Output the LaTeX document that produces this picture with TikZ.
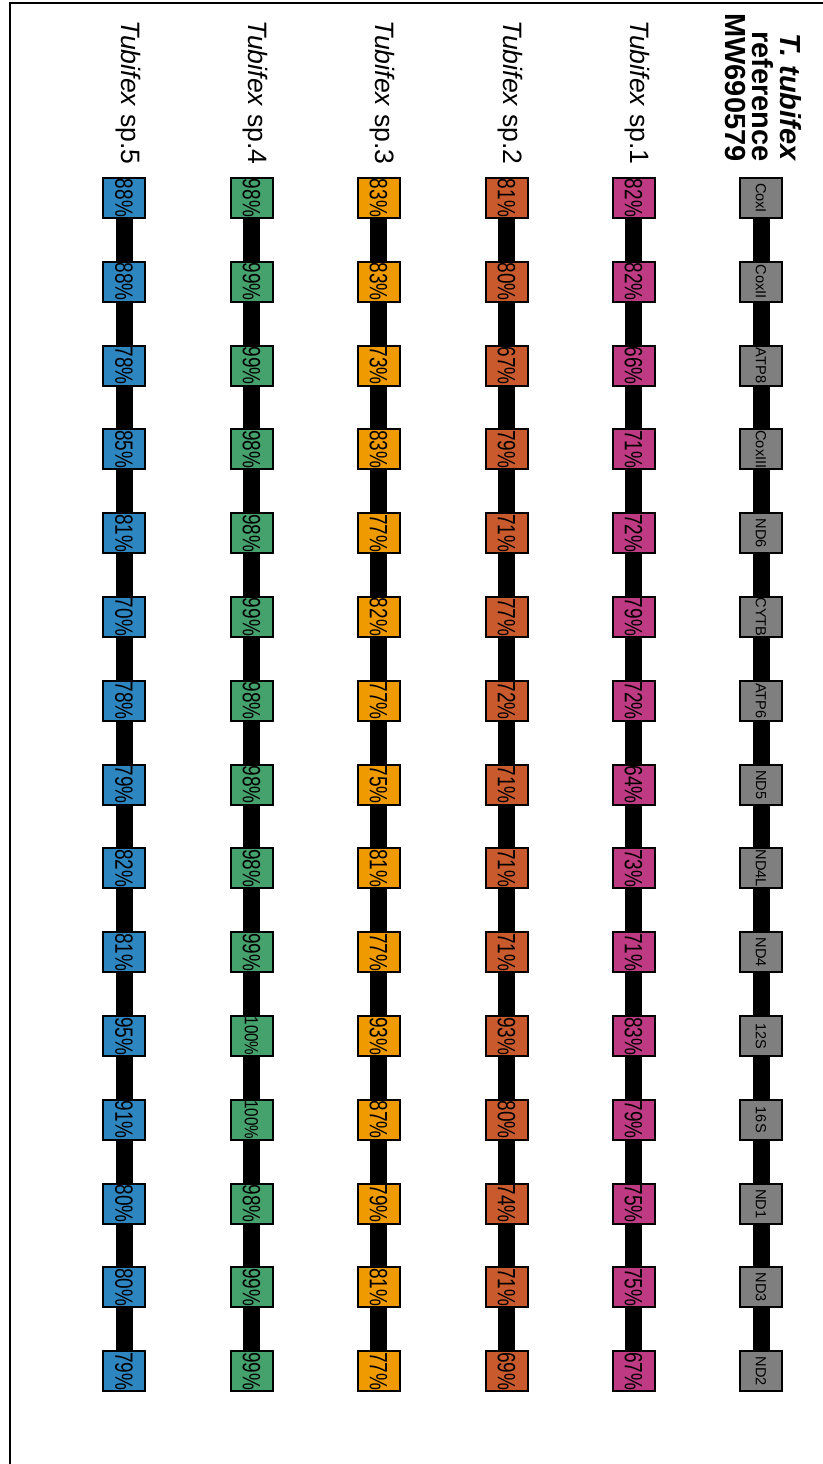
\documentclass[tikz,border=0pt]{standalone}
\usepackage{fontspec}
\setmainfont{Liberation Sans}
\usetikzlibrary{positioning}
\definecolor{refgray}{HTML}{7F7F7F}
\definecolor{spone}{HTML}{BE3A82}
\definecolor{sptwo}{HTML}{C85A2E}
\definecolor{spthree}{HTML}{EE9A00}
\definecolor{spfour}{HTML}{46A26D}
\definecolor{spfive}{HTML}{2E86C1}
% identity value, turned to read downwards
\newcommand{\pct}[1]{\rotatebox{-90}{\ifnum#1=100 \fontsize{9.5}{10}\selectfont\scalebox{0.8}[1]{#1\%}\else\scalebox{0.76}[1]{#1\%}\fi}}

\begin{document}
\begin{tikzpicture}[
    x=0.5pt, y=-0.5pt,
    gene/.style={draw, line width=1pt, minimum width=21pt, minimum height=20pt, inner sep=0pt, font=\fontsize{12.5}{12.5}\selectfont},
    link/.style={line width=8.5pt},
    rowname/.style={inner sep=0pt, anchor=east, rotate=-90, font=\fontsize{13.3}{13.3}\selectfont},
]
\useasboundingbox (0,0) rectangle (823,1464);
\draw[line width=1pt] (10,1464) -- (10,3) -- (823,3);

% reference genome
\node[rowname, align=right, font=\fontsize{14.5}{13.75}\selectfont\bfseries] (reflab) at (763,162) {\textit{T. tubifex}\\reference\\MW690579};
\foreach \g [count=\r] in {CoxI,CoxII,ATP8,CoxIII,ND6,CYTB,ATP6,ND5,ND4L,ND4,12S,16S,ND1,ND3,ND2}
    \node[gene, fill=refgray, font=\fontsize{7.3}{8}\selectfont] (ref-\r) at (761,{198+83.8*(\r-1)}) {\rotatebox{-90}{\g}};
\foreach \r [evaluate=\r as \s using int(\r+1)] in {1,...,14}
    \draw[link] (ref-\r) -- (ref-\s);

% Tubifex lineages
\foreach \c/\x/\colr/\vals in {
    1/633.5/spone/{82,82,66,71,72,79,72,64,73,71,83,79,75,75,67},
    2/506.5/sptwo/{81,80,67,79,71,77,72,71,71,71,93,80,74,71,69},
    3/378.5/spthree/{83,83,73,83,77,82,77,75,81,77,93,87,79,81,77},
    4/251.5/spfour/{98,99,99,98,98,99,98,98,98,99,100,100,98,99,99},
    5/124/spfive/{88,88,78,85,81,70,78,79,82,81,95,91,80,80,79}}{
    \node[rowname] (lab\c) at (\x+4,165) {\textit{Tubifex} sp.\c};
    \foreach \v [count=\r] in \vals
        \node[gene, fill=\colr] (sp\c-\r) at (\x,{198+83.8*(\r-1)}) {\pct{\v}};
    \foreach \r [evaluate=\r as \s using int(\r+1)] in {1,...,14}
        \draw[link] (sp\c-\r) -- (sp\c-\s);
}
\end{tikzpicture}
\end{document}
